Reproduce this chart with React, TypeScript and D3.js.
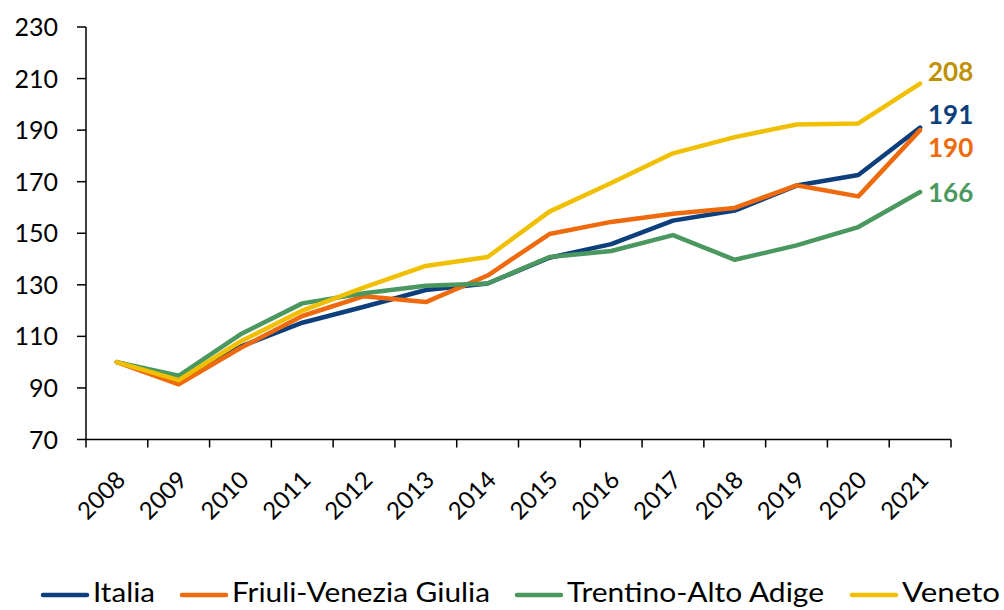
import React from "react";
import * as d3 from "d3";

const years = ["2008","2009","2010","2011","2012","2013","2014","2015","2016","2017","2018","2019","2020","2021"];
const italia = [100, 93, 106, 115.3, 121.5, 128, 130.5, 140.5, 145.8, 154.9, 158.8, 168.5, 172.6, 191];
const friuli = [100, 91.4, 105.5, 117.9, 125.6, 123.3, 133.6, 149.7, 154.4, 157.6, 159.8, 168.6, 164.3, 190];
const trentino = [100, 94.7, 110.8, 122.8, 126.7, 129.6, 130.5, 140.8, 143.1, 149.3, 139.7, 145.3, 152.4, 166];
const veneto = [100, 93, 108, 120, 129, 137.3, 140.8, 158.4, 169.5, 181, 187.3, 192.2, 192.6, 208];
const yTicks = [70, 90, 110, 130, 150, 170, 190, 210, 230];

const seriesNames = ["Italia", "Friuli-Venezia Giulia", "Trentino-Alto Adige", "Veneto"];
const seriesColors = ["#0D3F7D", "#EE6A0C", "#4A9860", "#F0C000"];
const labelColors = ["#0D3F7D", "#EE6A0C", "#4A9860", "#BF9000"];
const endLabels = ["191", "190", "166", "208"];
const labelOffsets = [-13, 18, 1, -12];

const FONT = "'Century Gothic', 'URW Gothic', Lato, sans-serif";

export default function App() {
  const W = 1004, H = 610;
  const left = 86, right = 951, top = 27, bottom = 439.5;
  const x = d3.scaleBand().domain(years).range([left, right]);
  const y = d3.scaleLinear().domain([70, 230]).range([bottom, top]);
  const cx = (yr: string) => (x(yr) as number) + x.bandwidth() / 2;
  const data = [italia, friuli, trentino, veneto];
  const line = d3.line<number>().x((_, i) => cx(years[i])).y((v) => y(v));
  const renderOrder = [0, 1, 2, 3];

  const legendX = [41, 180, 515, 850];
  const legendTextW = [62, 258, 257, 98];

  return (
    <svg width={W} height={H} style={{ position: "absolute", left: 0, top: 0 }} fontFamily={FONT}>
      {/* y axis */}
      <line x1={left} x2={left} y1={top} y2={bottom} stroke="#000" strokeWidth={1.5} />
      {yTicks.map((t) => (
        <g key={t}>
          <line x1={left - 9} x2={left} y1={y(t)} y2={y(t)} stroke="#000" strokeWidth={1.5} />
          <text x={58} y={y(t)} dy="0.36em" textAnchor="end" fontSize={25} fill="#000">{t}</text>
        </g>
      ))}
      {/* x axis */}
      <line x1={left} x2={right} y1={bottom} y2={bottom} stroke="#000" strokeWidth={1.5} />
      {years.map((yr) => (
        <line key={"t" + yr} x1={x(yr) as number} x2={x(yr) as number} y1={bottom} y2={bottom + 8} stroke="#000" strokeWidth={1.5} />
      ))}
      <line x1={right} x2={right} y1={bottom} y2={bottom + 8} stroke="#000" strokeWidth={1.5} />
      {years.map((yr) => (
        <text key={"l" + yr} transform={`translate(${cx(yr) + 10},${bottom + 42}) rotate(-45)`} textAnchor="end" fontSize={24} fill="#000">{yr}</text>
      ))}
      {/* lines */}
      {renderOrder.map((k) => (
        <path key={"p" + k} d={line(data[k]) as string} fill="none" stroke={seriesColors[k]} strokeWidth={4.5} strokeLinejoin="round" strokeLinecap="round" />
      ))}
      {/* end labels */}
      {renderOrder.map((k) => (
        <text key={"e" + k} x={928} y={y(data[k][data[k].length - 1]) + labelOffsets[k]} dy="0.36em" fontSize={26} fontWeight="bold" fill={labelColors[k]}>{endLabels[k]}</text>
      ))}
      {/* legend */}
      {renderOrder.map((k) => (
        <g key={"g" + k}>
          <line x1={legendX[k] + 2} x2={legendX[k] + 46} y1={595} y2={595} stroke={seriesColors[k]} strokeWidth={4.5} strokeLinecap="round" />
          <text x={legendX[k] + 52} y={593} dy="0.36em" fontSize={26} fill="#000" textLength={legendTextW[k]} lengthAdjust="spacingAndGlyphs">{seriesNames[k]}</text>
        </g>
      ))}
    </svg>
  );
}
